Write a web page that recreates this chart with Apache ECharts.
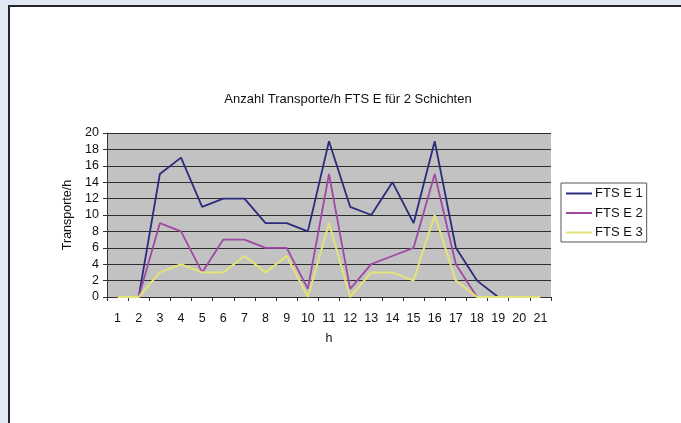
<!DOCTYPE html>
<html>
<head>
<meta charset="utf-8">
<script src="https://cdn.jsdelivr.net/npm/echarts@6/dist/echarts.min.js"></script>
<style>
html,body{margin:0;padding:0;width:681px;height:423px;overflow:hidden;background:#e1e7f3;}
#frame{position:absolute;left:8px;top:5px;width:700px;height:440px;background:#ffffff;border-left:2px solid #262628;border-top:2px solid #262628;}
#chart{position:absolute;left:0;top:0;width:681px;height:423px;}
</style>
</head>
<body>
<div id="frame"></div>
<div id="chart"></div>
<script>
const categories = ['1','2','3','4','5','6','7','8','9','10','11','12','13','14','15','16','17','18','19','20','21'];
const seriesNames = ['FTS E 1','FTS E 2','FTS E 3'];
const ftsE1 = [0,0,15,17,11,12,12,9,9,8,19,11,10,14,9,19,6,2,0,0,0];
const ftsE2 = [0,0,9,8,3,7,7,6,6,1,15,1,4,5,6,15,4,0,0,0,0];
const ftsE3 = [0,0,3,4,3,3,5,3,5,0,9,0,3,3,2,10,2,0,0,0,0];
const yTicks = [0,2,4,6,8,10,12,14,16,18,20];

const colors = ['#2c2c7e','#a04aa6','#e3e37a'];
const font = 'Liberation Sans, Arial, sans-serif';

const chart = echarts.init(document.getElementById('chart'), null, {renderer:'canvas'});
chart.setOption({
  backgroundColor: 'transparent',
  animation: false,
  title: {
    text: 'Anzahl Transporte/h FTS E für 2 Schichten',
    left: 343, top: 88, textAlign: 'center',
    textStyle: {fontFamily: font, fontSize: 13, fontWeight: 'normal', color: '#111'}
  },
  legend: {
    data: seriesNames,
    orient: 'vertical',
    left: 561, top: 183,
    padding: [4, 4, 3, 5],
    itemGap: 6.5,
    itemWidth: 26, itemHeight: 2,
    icon: 'rect',
    borderColor: '#555',
    borderWidth: 1,
    backgroundColor: '#ffffff',
    textStyle: {fontFamily: font, fontSize: 13, color: '#111', padding: [0,0,0,-2]}
  },
  grid: {left: 107, right: 130, top: 133, bottom: 126, containLabel: false,
         show: true, backgroundColor: '#c2c2c2', borderWidth: 0},
  xAxis: {
    type: 'category',
    data: categories,
    boundaryGap: true,
    name: 'h',
    nameLocation: 'middle',
    nameGap: 35,
    nameTextStyle: {fontFamily: font, fontSize: 12.5, color: '#111'},
    axisLine: {show: true, lineStyle: {color: '#333', width: 1}},
    axisTick: {show: true, length: 4, inside: false, lineStyle: {color: '#333'}},
    axisLabel: {fontFamily: font, fontSize: 12.5, color: '#111', margin: 15},
    splitLine: {show: false}
  },
  yAxis: {
    type: 'value',
    min: 0, max: 20, interval: 2,
    name: 'Transporte/h',
    nameLocation: 'middle',
    nameGap: 30,
    nameTextStyle: {fontFamily: font, fontSize: 12.5, color: '#111'},
    axisLine: {show: true, lineStyle: {color: '#333', width: 1}},
    axisTick: {show: true, length: 4, lineStyle: {color: '#333'}},
    axisLabel: {fontFamily: font, fontSize: 12.5, color: '#111', margin: 8,
      formatter: v => yTicks.includes(v) ? String(v) : ''},
    splitLine: {show: true, lineStyle: {color: '#2e2e2e', width: 1}}
  },
  series: [
    {name: seriesNames[0], type: 'line', data: ftsE1, showSymbol: false, symbol: 'none',
     lineStyle: {color: colors[0], width: 1.8}, itemStyle: {color: colors[0]}, z: 3},
    {name: seriesNames[1], type: 'line', data: ftsE2, showSymbol: false, symbol: 'none',
     lineStyle: {color: colors[1], width: 1.8}, itemStyle: {color: colors[1]}, z: 4},
    {name: seriesNames[2], type: 'line', data: ftsE3, showSymbol: false, symbol: 'none',
     lineStyle: {color: colors[2], width: 2}, itemStyle: {color: colors[2]}, z: 5}
  ]
});
</script>
</body>
</html>
